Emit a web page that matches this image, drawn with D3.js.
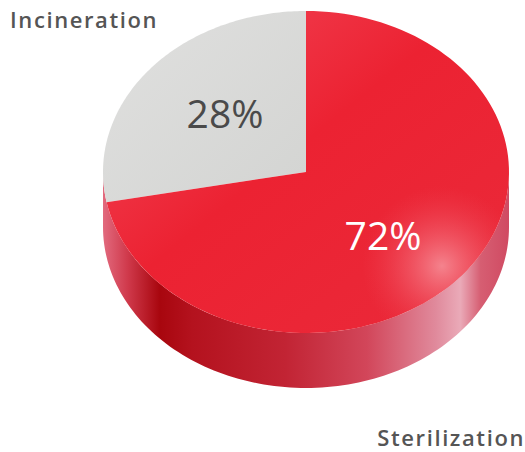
<!DOCTYPE html>
<html><head><meta charset="utf-8">
<script src="https://cdn.jsdelivr.net/npm/d3@7"></script>
<style>html,body{margin:0;padding:0;background:#fff;}svg{display:block;}</style>
</head><body>
<svg id="c" width="525" height="452"></svg>
<script>
const categories = ["Incineration", "Sterilization"];
const values = [28, 72];
const valueLabels = ["28%", "72%"];

const W = 525, H = 452;
const cx = 306, cy = 172, rx = 203, ry = 161, depth = 55;
const svg = d3.select("#c");
const defs = svg.append("defs");

// gradients
const gRed = defs.append("linearGradient").attr("id","gRed").attr("x1","0").attr("y1","0").attr("x2","1").attr("y2","1");
gRed.append("stop").attr("offset","0").attr("stop-color","#f34a5c");
gRed.append("stop").attr("offset","0.45").attr("stop-color","#ec2232");
gRed.append("stop").attr("offset","1").attr("stop-color","#ea2a3a");
const gGray = defs.append("linearGradient").attr("id","gGray").attr("x1","0").attr("y1","0").attr("x2","1").attr("y2","1");
gGray.append("stop").attr("offset","0").attr("stop-color","#e0e0df");
gGray.append("stop").attr("offset","1").attr("stop-color","#d3d4d2");
const gHi = defs.append("radialGradient").attr("id","gHi").attr("gradientUnits","userSpaceOnUse")
  .attr("cx",442).attr("cy",266).attr("r",80);
gHi.append("stop").attr("offset","0").attr("stop-color","#f58892").attr("stop-opacity",0.95);
gHi.append("stop").attr("offset","0.5").attr("stop-color","#f26270").attr("stop-opacity",0.5);
gHi.append("stop").attr("offset","1").attr("stop-color","#ee4050").attr("stop-opacity",0);
const gSide = defs.append("linearGradient").attr("id","gSide").attr("gradientUnits","userSpaceOnUse")
  .attr("x1",cx-rx).attr("y1",0).attr("x2",cx+rx).attr("y2",0);
[[0,"#e26a7e"],[0.06,"#d03a4c"],[0.14,"#a8060e"],[0.22,"#b4121e"],[0.45,"#c22434"],[0.65,"#d2465a"],[0.82,"#e08a9c"],[0.88,"#eaaab8"],[0.93,"#d65e72"],[1,"#d04a62"]]
  .forEach(([o,c]) => gSide.append("stop").attr("offset",o).attr("stop-color",c));

const pie = d3.pie().sort(null).startAngle(0).endAngle(-2*Math.PI);
const arcs = pie(values);
const colors = ["url(#gGray)", "url(#gRed)"];

function pt(a, dy) { return [cx + rx*Math.sin(a), cy - ry*Math.cos(a) + (dy||0)]; }
function topPath(a0, a1) {
  const n = 120, pts = [[cx, cy]];
  for (let i = 0; i <= n; i++) pts.push(pt(a0 + (a1-a0)*i/n));
  return d3.line()(pts) + "Z";
}
function sidePath(a0, a1) {
  const n = 120, up = [], dn = [];
  for (let i = 0; i <= n; i++) { const a = a0 + (a1-a0)*i/n; up.push(pt(a)); dn.push(pt(a, depth)); }
  return d3.line()(up.concat(dn.reverse())) + "Z";
}

// side: front half (from left edge to right edge through the bottom)
svg.append("path").attr("d", sidePath(-Math.PI/2, -3*Math.PI/2)).attr("fill","url(#gSide)");

// top faces
svg.selectAll("path.top").data(arcs).join("path").attr("class","top")
  .attr("d", d => topPath(d.startAngle, d.endAngle))
  .attr("fill", (d,i) => colors[i]);
// highlight on red slice
svg.append("path").attr("d", topPath(arcs[1].startAngle, arcs[1].endAngle)).attr("fill","url(#gHi)");

// value labels
const labelPos = [[225, 128], [383, 250]];
const labelColors = ["#4a4a4a", "#ffffff"];
svg.selectAll("text.val").data(arcs).join("text").attr("class","val")
  .attr("x", (d,i) => labelPos[i][0]).attr("y", (d,i) => labelPos[i][1])
  .attr("text-anchor","middle").attr("font-family","'Open Sans', sans-serif")
  .attr("font-size", 39).attr("font-weight", 500).attr("fill", (d,i) => labelColors[i])
  .text((d,i) => valueLabels[i]);

// category labels
svg.append("text").attr("x", 10).attr("y", 28).attr("font-family","'Open Sans', sans-serif")
  .attr("font-size", 22).attr("font-weight", 600).attr("letter-spacing", 1.6).attr("fill","#555555").text(categories[0]);
svg.append("text").attr("x", 525).attr("y", 446).attr("text-anchor","end").attr("font-family","'Open Sans', sans-serif")
  .attr("font-size", 22).attr("font-weight", 600).attr("letter-spacing", 1.6).attr("fill","#555555").text(categories[1]);
</script>
</body></html>
